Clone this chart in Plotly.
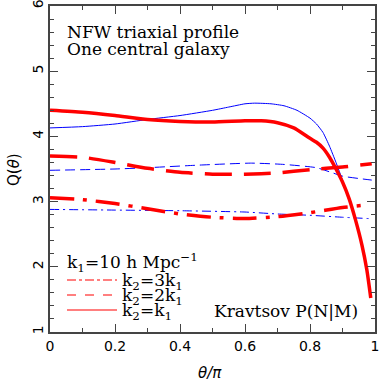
import plotly.graph_objects as go

# ---- data ----
x_red_solid = [0, 0.1, 0.2, 0.3, 0.4, 0.5, 0.6, 0.65, 0.7, 0.75, 0.8, 0.82, 0.84, 0.86, 0.88, 0.9, 0.92, 0.94, 0.96, 0.975, 0.987]
y_red_solid = [4.40, 4.37, 4.32, 4.26, 4.23, 4.22, 4.24, 4.24, 4.21, 4.13, 3.97, 3.91, 3.82, 3.68, 3.50, 3.30, 3.05, 2.72, 2.33, 1.95, 1.52]

x_blue_solid = [0, 0.1, 0.2, 0.3, 0.4, 0.5, 0.55, 0.6, 0.63, 0.68, 0.72, 0.76, 0.8, 0.82, 0.84, 0.86, 0.88, 0.9, 0.92, 0.94, 0.955]
y_blue_solid = [4.13, 4.15, 4.19, 4.26, 4.32, 4.40, 4.45, 4.50, 4.51, 4.50, 4.47, 4.40, 4.28, 4.19, 4.06, 3.85, 3.60, 3.33, 3.04, 2.70, 2.42]

x_red_dash = [0, 0.1, 0.2, 0.3, 0.4, 0.5, 0.6, 0.7, 0.8, 0.9, 0.99]
y_red_dash = [3.70, 3.68, 3.60, 3.51, 3.45, 3.42, 3.42, 3.44, 3.49, 3.53, 3.58]

x_blue_dash = [0, 0.2, 0.3, 0.46, 0.62, 0.72, 0.82, 0.87, 0.9, 0.99]
y_blue_dash = [3.48, 3.50, 3.52, 3.56, 3.59, 3.57, 3.52, 3.44, 3.39, 3.33]

x_red_dd = [0, 0.1, 0.2, 0.3, 0.4, 0.5, 0.6, 0.7, 0.8, 0.9, 0.98]
y_red_dd = [3.06, 3.03, 2.97, 2.89, 2.81, 2.76, 2.74, 2.77, 2.83, 2.91, 2.95]

x_blue_dd = [0, 0.2, 0.4, 0.6, 0.7, 0.8, 0.9, 0.98]
y_blue_dd = [2.88, 2.87, 2.86, 2.84, 2.81, 2.79, 2.76, 2.74]

x_ticks = [0, 0.2, 0.4, 0.6, 0.8, 1]
x_tick_labels = ["0", "0.2", "0.4", "0.6", "0.8", "1"]
y_ticks = [1, 2, 3, 4, 5, 6]
y_tick_labels = ["1", "2", "3", "4", "5", "6"]

legend_labels = ["k<sub>2</sub>=3k<sub>1</sub>", "k<sub>2</sub>=2k<sub>1</sub>", "k<sub>2</sub>=k<sub>1</sub>"]

RED = "#ff0000"
BLUE = "#0000ff"
AXC = "#444444"
SERIF = "DejaVu Serif"
SANS = "DejaVu Sans"

fig = go.Figure()

def add(x, y, color, width, dash):
    fig.add_trace(go.Scatter(x=x, y=y, mode="lines", showlegend=False,
                             line=dict(color=color, width=width, dash=dash, shape="spline", smoothing=0.5),
                             hoverinfo="skip"))

add(x_blue_dd, y_blue_dd, BLUE, 1, "9px,4px,2px,4px")
add(x_blue_dash, y_blue_dash, BLUE, 1, "10px,5px")
add(x_blue_solid, y_blue_solid, BLUE, 1, "solid")
add(x_red_dd, y_red_dd, RED, 3.5, "24px,9px,4px,9px")
add(x_red_dash, y_red_dash, RED, 3.5, "27px,12px")
add(x_red_solid, y_red_solid, RED, 3.5, "solid")

axis_common = dict(
    showgrid=False, zeroline=False, showline=True, linecolor=AXC, linewidth=1.5,
    mirror="allticks", ticks="inside", ticklen=8, tickwidth=1.2, tickcolor=AXC,
    tickfont=dict(family=SANS, size=14, color="black"), automargin=False,
    ticklabeloverflow="allow",
)

fig.update_xaxes(range=[0, 1], tickvals=x_ticks, ticktext=x_tick_labels,
                 minor=dict(dtick=0.1, ticks="inside", ticklen=4, tickcolor=AXC, tickwidth=1, showgrid=False),
                 **axis_common)
fig.update_yaxes(range=[1, 6], tickvals=y_ticks, ticktext=y_tick_labels, tickangle=-90,
                 minor=dict(dtick=0.2, ticks="inside", ticklen=4, tickcolor=AXC, tickwidth=1, showgrid=False),
                 **axis_common)

W, H = 382, 390
L, R, T, B = 50, 7, 6, 58
pw, ph = W - L - R, H - T - B
def px2paper(px, py):
    return (px - L) / pw, 1 - (py - T) / ph

# legend keys (paper coordinates)
shapes = []
key_y = [280, 295, 310]
key_dash = ["dashdot", "dash", "solid"]
for yy, d in zip(key_y, key_dash):
    x0, y0 = px2paper(67, yy)
    x1, _ = px2paper(117, yy)
    shapes.append(dict(type="line", xref="paper", yref="paper", x0=x0, x1=x1, y0=y0, y1=y0,
                       line=dict(color=RED, width=1.2, dash=d)))
fig.update_layout(shapes=shapes)

ann = []
def text(px, py, s, size=17, family=SERIF, xanchor="left", angle=0):
    x, y = px2paper(px, py)
    ann.append(dict(x=x, y=y, xref="paper", yref="paper", text=s, showarrow=False,
                    xanchor=xanchor, yanchor="middle", textangle=angle,
                    font=dict(family=family, size=size, color="black")))

text(65, 32, "NFW triaxial profile")
text(65, 49, "One central galaxy")
text(65, 262, "k<sub>1</sub>=10 h Mpc<sup>−1</sup>")
for yy, lab in zip(key_y, legend_labels):
    text(120, yy + 1, lab)
text(212, 311, "Kravtsov P(N|M)")

fig.update_layout(annotations=ann)
fig.add_annotation(x=(210 - L) / pw, y=1 - (373 - T) / ph, xref="paper", yref="paper",
                   text="<i>θ/π</i>", showarrow=False, xanchor="center", yanchor="middle",
                   font=dict(family=SANS, size=15, color="black"))
fig.add_annotation(x=(14 - L) / pw, y=1 - (170 - T) / ph, xref="paper", yref="paper",
                   text="Q(<i>θ</i>)", showarrow=False, xanchor="center", yanchor="middle", textangle=-90,
                   font=dict(family=SANS, size=15, color="black"))

fig.update_layout(width=W, height=H, margin=dict(l=L, r=R, t=T, b=B),
                  paper_bgcolor="white", plot_bgcolor="white", showlegend=False)

fig.write_html("out.html", config={"displayModeBar": False},
               post_script="document.body.style.margin='0px';document.body.style.overflow='hidden';")
